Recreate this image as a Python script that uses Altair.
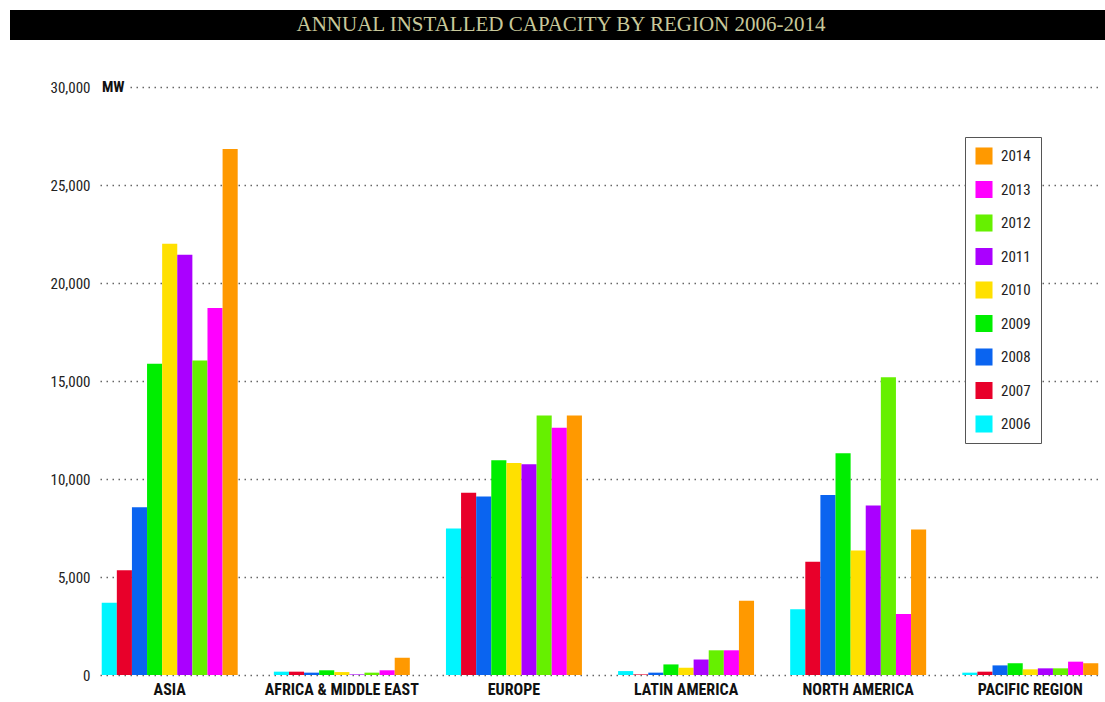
import altair as alt
import pandas as pd

regions = ["ASIA", "AFRICA & MIDDLE EAST", "EUROPE", "LATIN AMERICA", "NORTH AMERICA", "PACIFIC REGION"]
years = ["2006", "2007", "2008", "2009", "2010", "2011", "2012", "2013", "2014"]

# MW installed per year, in region order above
v2006 = [3680, 170, 7480, 200, 3360, 120]
v2007 = [5350, 170, 9300, 30, 5780, 170]
v2008 = [8560, 120, 9110, 120, 9180, 490]
v2009 = [15880, 240, 10960, 540, 11310, 600]
v2010 = [22000, 150, 10820, 370, 6350, 290]
v2011 = [21440, 30, 10750, 790, 8650, 340]
v2012 = [16050, 120, 13240, 1260, 15190, 340]
v2013 = [18720, 240, 12620, 1260, 3110, 680]
v2014 = [26840, 880, 13240, 3790, 7420, 600]

colors = ["#00F5FF", "#E8002A", "#0A64F0", "#00EE00", "#FFE000", "#AA00FF", "#66F000", "#FF00FF", "#FF9900"]
yticks = [0, 5000, 10000, 15000, 20000, 25000, 30000]
title_text = "ANNUAL INSTALLED CAPACITY BY REGION 2006-2014"

series = [v2006, v2007, v2008, v2009, v2010, v2011, v2012, v2013, v2014]
rows = []
for y, vals in zip(years, series):
    for r, v in zip(regions, vals):
        rows.append({"region": r, "year": y, "mw": v})
df = pd.DataFrame(rows)

FONT = "Liberation Sans Narrow, Roboto Condensed, Arial Narrow, sans-serif"

bars = alt.Chart(df).mark_bar().encode(
    x=alt.X("region:N", sort=regions,
            scale=alt.Scale(paddingInner=0.21, paddingOuter=0.01),
            axis=alt.Axis(title=None, labelAngle=0, ticks=False, domain=False,
                          labelFont=FONT, labelFontWeight="bold", labelFontSize=16,
                          labelColor="#111", labelPadding=6)),
    xOffset=alt.XOffset("year:N", sort=years, scale=alt.Scale(paddingInner=0, paddingOuter=0)),
    y=alt.Y("mw:Q", scale=alt.Scale(domain=[0, 30000], nice=False),
            axis=alt.Axis(title=None, values=yticks, format=",d", ticks=False, domain=False,
                          labelFont=FONT, labelFontSize=15, labelColor="#222",
                          labelPadding=10, grid=True, gridColor="#666",
                          gridDash=[1.5, 4.5], gridWidth=1.5)),
    color=alt.Color("year:N",
                    scale=alt.Scale(domain=years[::-1], range=colors[::-1]),
                    legend=alt.Legend(title=None, orient="none", legendX=865, legendY=50,
                                      symbolType="square", symbolSize=290, symbolStrokeWidth=0,
                                      rowPadding=15.5, labelFont=FONT, labelFontSize=15,
                                      labelColor="#222", padding=10, strokeColor="#555",
                                      fillColor="white", labelOffset=8)),
)

bar_bg = alt.Chart(pd.DataFrame({"a": [0]})).mark_rect(color="black").encode(
    x=alt.value(-90), x2=alt.value(1005), y=alt.value(-77), y2=alt.value(-47))
title = alt.Chart(pd.DataFrame({"t": [title_text]})).mark_text(
    font="Liberation Serif", fontSize=21, color="#C8C89A", align="center", baseline="middle"
).encode(text="t:N", x=alt.value(461), y=alt.value(-62))

mw_bg = alt.Chart(pd.DataFrame({"a": [0]})).mark_rect(color="white").encode(
    x=alt.value(0), x2=alt.value(29), y=alt.value(-8), y2=alt.value(8))
mw = alt.Chart(pd.DataFrame({"t": ["MW"]})).mark_text(
    font=FONT, fontSize=15, fontWeight="bold", color="#111", align="left", baseline="middle"
).encode(text="t:N", x=alt.value(2), y=alt.value(0))

chart = alt.layer(bars, mw_bg, mw, bar_bg, title).properties(
    width=1000, height=588,
    padding={"left": 100, "top": 87, "right": 5, "bottom": 27},
    autosize=alt.AutoSizeParams(type="none"),
    background="white",
).configure_view(stroke=None)

chart.save("out.html", embed_options={"renderer": "svg", "actions": False})
